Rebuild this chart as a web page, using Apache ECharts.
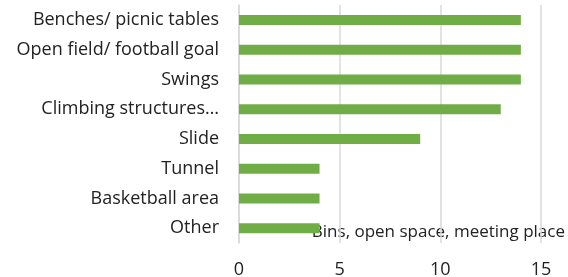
<!DOCTYPE html>
<html>
<head>
<meta charset="utf-8">
<script src="https://cdn.jsdelivr.net/npm/echarts@6/dist/echarts.min.js"></script>
<style>
  html, body { margin: 0; padding: 0; background: #fff; }
  #main { width: 568px; height: 277px; }
</style>
</head>
<body>
<div id="main"></div>
<script>
// categories, top to bottom as in the picture
var categories = ['Benches/ picnic tables', 'Open field/ football goal', 'Swings',
    'Climbing structures…', 'Slide', 'Tunnel', 'Basketball area', 'Other'];
var counts = [14, 14, 14, 13, 9, 4, 4, 4];
var xTicks = [0, 5, 10, 15];
var note = 'Bins, open space, meeting place';

var font = 'Open Sans';
var myChart = echarts.init(document.getElementById('main'));
var option = {
    animation: false,
    grid: { left: 239, right: 27, top: 5, bottom: 34, outerBoundsMode: 'none' },
    xAxis: {
        type: 'value',
        min: xTicks[0],
        max: xTicks[xTicks.length - 1],
        interval: 5,
        axisLine: { show: false },
        axisTick: { show: false },
        splitLine: { lineStyle: { color: '#d9d9d9', width: 1.5 } },
        axisLabel: { color: '#222', fontSize: 18, fontFamily: font, margin: 18 }
    },
    yAxis: {
        type: 'category',
        data: categories,
        inverse: true,
        axisLine: { show: true, lineStyle: { color: '#d9d9d9', width: 1.5 } },
        axisTick: { show: false },
        axisLabel: { color: '#222', fontSize: 18, fontFamily: font, margin: 20 }
    },
    series: [
        {
            type: 'bar',
            data: counts,
            barWidth: 10,
            itemStyle: { color: '#70ad47' }
        }
    ],
    graphic: [
        {
            type: 'text',
            right: 3,
            top: 224,
            style: { text: note, fill: '#222', fontSize: 17, fontFamily: font }
        }
    ]
};
myChart.setOption(option);
</script>
</body>
</html>
